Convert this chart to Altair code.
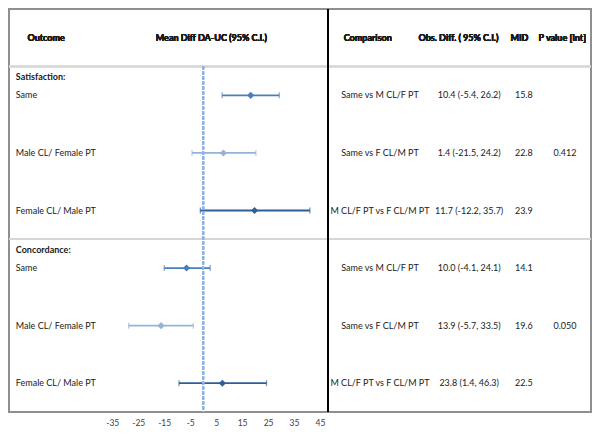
import altair as alt
import pandas as pd

# ---- data ----
groups = ["Satisfaction:", "Satisfaction:", "Satisfaction:",
          "Concordance:", "Concordance:", "Concordance:"]
outcomes = ["Same", "Male CL/ Female PT", "Female CL/ Male PT",
            "Same", "Male CL/ Female PT", "Female CL/ Male PT"]
subgroup = ["Same", "Male CL", "Female CL", "Same", "Male CL", "Female CL"]
means = [18.3, 7.8, 19.8, -6.4, -16.2, 7.4]
lowers = [7.3, -4.3, -1.1, -15.0, -28.7, -9.3]
uppers = [29.3, 20.3, 41.1, 2.7, -3.8, 24.4]
comparisons = ["Same vs M CL/F PT", "Same vs F CL/M PT", "M CL/F PT vs F CL/M PT",
               "Same vs M CL/F PT", "Same vs F CL/M PT", "M CL/F PT vs F CL/M PT"]
obs_diffs = ["10.4 (-5.4, 26.2)", "1.4 (-21.5, 24.2)", "11.7 (-12.2, 35.7)",
             "10.0 (-4.1, 24.1)", "13.9 (-5.7, 33.5)", "23.8 (1.4, 46.3)"]
mids = ["15.8", "22.8", "23.9", "14.1", "19.6", "22.5"]
p_values = ["", "0.412", "", "", "0.050", ""]
x_ticks = [-35, -25, -15, -5, 5, 15, 25, 35, 45]

df = pd.DataFrame({
    "row": list(range(len(outcomes))),
    "group": groups, "outcome": outcomes, "sub": subgroup,
    "mean": means, "lower": lowers, "upper": uppers,
    "comparison": comparisons, "diff": obs_diffs, "mid": mids, "p": p_values,
})
first_rows = [groups.index(g) for g in dict.fromkeys(groups)]
gdf = pd.DataFrame({"group": [groups[i] for i in first_rows], "row": first_rows})

W, H = 582, 403
ROW = H / 7.0
FONT = "Lato"
FS = 9
TXT = "#1a1a1a"

yscale = alt.Scale(domain=[-1.5, 5.5], reverse=True, nice=False, zero=False)
xscale = alt.Scale(domain=[-35, 45], range=[103.3, 311.0], nice=False, zero=False)
xaxis = alt.Axis(values=x_ticks, ticks=False, domain=False, grid=False, title=None,
                 labelFlush=False, labelExpr="datum.value + ''",
                 labelFont=FONT, labelFontSize=8.5, labelColor="#404040", labelPadding=6)
color = alt.Color("sub:N", scale=alt.Scale(domain=["Same", "Male CL", "Female CL"],
                                           range=["#4a7ebb", "#95b3d7", "#2f5f98"]),
                  legend=None)

base = alt.Chart(df)
Y = alt.Y("row:Q", scale=yscale, axis=None)

sep1 = base.mark_rule(color="#d6d6d6", strokeWidth=1.5).encode(
    y=alt.value(ROW * 1.0), x=alt.value(0), x2=alt.value(W))
sep2 = base.mark_rule(color="#d6d6d6", strokeWidth=1.5).encode(
    y=alt.value(ROW * 4.0), x=alt.value(0), x2=alt.value(W))

divider = base.mark_rule(color="#000000", strokeWidth=1.5).encode(
    x=alt.value(318.8), y=alt.value(0), y2=alt.value(H))

zero_line = base.mark_rule(color="#8db3e2", strokeWidth=2, strokeDash=[3, 2]).encode(
    x=alt.datum(0), y=alt.value(ROW * 1.0), y2=alt.value(H))

bars = base.mark_rule(strokeWidth=1.8).encode(
    x=alt.X("lower:Q", scale=xscale, axis=xaxis), x2="upper:Q", y=Y, color=color)

caps_lo = base.mark_tick(thickness=1.2, size=6).encode(
    x=alt.X("lower:Q", scale=xscale, axis=xaxis), y=Y, color=color)
caps_hi = base.mark_tick(thickness=1.2, size=6).encode(
    x=alt.X("upper:Q", scale=xscale, axis=xaxis), y=Y, color=color)

points = base.mark_point(shape="diamond", filled=True, size=50, opacity=1).encode(
    x=alt.X("mean:Q", scale=xscale, axis=xaxis), y=Y, color=color)


def col_text(field, xpos, align="center", data=df, dy=0, bold=False):
    return alt.Chart(data).mark_text(font=FONT, fontSize=FS, color=TXT, align=align, dy=dy,
                                     fontWeight="bold" if bold else "normal").encode(
        x=alt.value(xpos), y=Y, text=f"{field}:N")


def header(text, xpos, align="center"):
    return base.mark_text(font=FONT, fontSize=FS, color=TXT, align=align,
                          fontWeight="bold", text=text).encode(
        x=alt.value(xpos), y=alt.value(ROW * 0.5))


chart = alt.layer(
    sep1, sep2, divider, bars, caps_lo, caps_hi, points, zero_line,
    header("Outcome", 18.5, "left"),
    header("Mean Diff DA-UC (95% C.I.)", 202.3),
    header("Comparison", 358.8),
    header("Obs.  Diff.  ( 95% C.I.)", 449.5),
    header("MID", 510.4),
    header("P value [Int]", 553.3),
    col_text("group", 6.8, "left", data=gdf, dy=-18.5, bold=True),
    col_text("outcome", 6.8, "left"),
    col_text("comparison", 371.0),
    col_text("diff", 460.2),
    col_text("mid", 514.8),
    col_text("p", 556.0),
).properties(
    width=W, height=H,
    autosize=alt.AutoSizeParams(type="none"),
    padding={"left": 1, "top": 1, "right": 1, "bottom": 18},
    background="white",
).configure_view(stroke="#8f8f8f", strokeWidth=2)

chart.save("out.html", embed_options={"renderer": "svg", "actions": False})
